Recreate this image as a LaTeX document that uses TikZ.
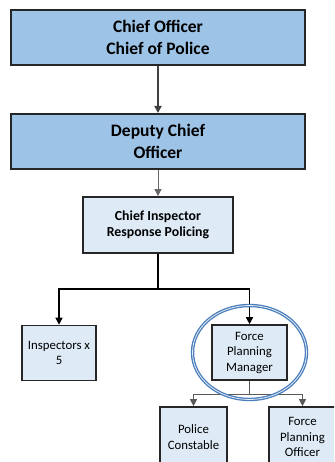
\documentclass[tikz,border=0pt]{standalone}
\usepackage{fontspec}
\setmainfont{Carlito}
\usepackage{tikz}
\usetikzlibrary{arrows.meta}
\definecolor{topblue}{RGB}{157,195,230}
\definecolor{paleblue}{RGB}{222,235,247}
\definecolor{ringblue}{RGB}{74,126,187}
\definecolor{boxline}{RGB}{38,38,38}
\tikzset{
  bigbox/.style={draw=boxline, line width=2pt, fill=topblue, minimum width=294pt,
    minimum height=55pt, align=center, font=\fontsize{17.5}{22}\selectfont\bfseries},
  midbox/.style={draw=boxline, line width=1.8pt, fill=paleblue, minimum width=150pt,
    minimum height=56pt, align=center, font=\fontsize{13.8}{16}\selectfont\bfseries},
  smallbox/.style={draw=boxline, line width=1.6pt, fill=paleblue, minimum width=74pt,
    minimum height=55pt, align=center, font=\fontsize{12.8}{15.5}\selectfont},
  tip/.style={-{Triangle[width=7pt,length=7pt]}}
}
\begin{document}
\begin{tikzpicture}[x=1pt,y=-1pt]% [scale=0.8]
\useasboundingbox (0,0) rectangle (334,462);
\clip (0,0) rectangle (334,462);

\node[bigbox] (chief) at (158,37.5) {Chief Officer\\Chief of Police};
\node[bigbox] (deputy) at (158,141.5) {Deputy Chief\\Officer};
\node[midbox] (inspector) at (158,225) {Chief Inspector\\Response Policing};
\node[smallbox] (insp) at (59,353) {Inspectors x\\5};
\node[smallbox, minimum width=75pt] (fpm) at (249.5,352.5) {Force\\Planning\\Manager};
\node[smallbox, minimum width=67pt, minimum height=60pt] (pc) at (193.5,437) {Police\\Constable};
\node[smallbox, minimum width=67pt, minimum height=60pt] (fpo) at (302.5,437) {Force\\Planning\\Officer};

\coordinate (split) at (158,289);
\coordinate (split2) at (249.5,394);

\draw[tip, line width=2.4pt, black!75] (chief) -- (deputy);
\draw[tip, line width=0.8pt, black!60] (deputy) -- (inspector);
\draw[line width=1.5pt] (inspector) -- (split);
\draw[tip, line width=1.5pt] (split) -| (insp.north);
\draw[tip, line width=1.5pt] (split) -| (fpm.north);
\draw[line width=0.9pt, black!65] (fpm) -- (split2);
\draw[tip, line width=0.9pt, black!65] (split2) -| (pc.north);
\draw[tip, line width=0.9pt, black!65] (split2) -| (fpo.north);

% ring round the manager
\draw[ringblue, line width=1.3pt, double=white!85!ringblue, double distance=0.8pt]
  (fpm.center) ellipse (57pt and 47pt);
\end{tikzpicture}
\end{document}
